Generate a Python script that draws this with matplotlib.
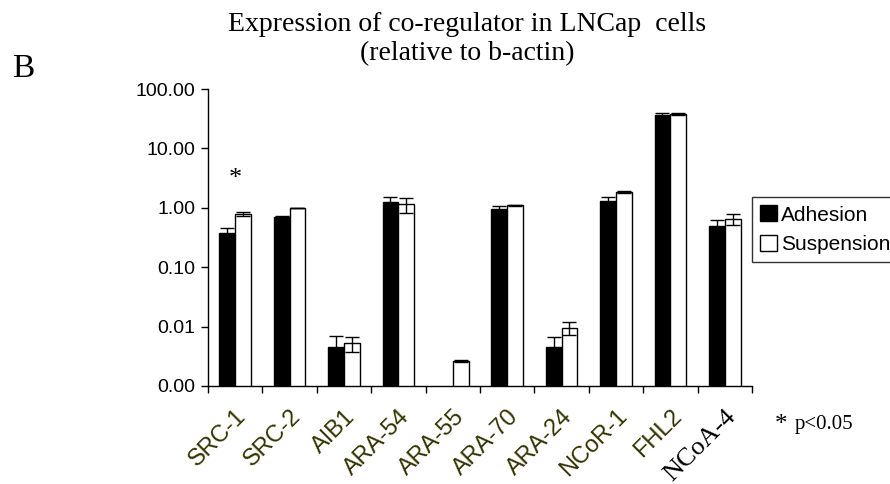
import numpy as np
from matplotlib import pyplot as plt

# co-regulator expression, relative to b-actin
genes = ["SRC-1", "SRC-2", "AIB1", "ARA-54", "ARA-55", "ARA-70",
         "ARA-24", "NCoR-1", "FHL2", "NCoA-4"]
adhesion = [0.37, 0.71, 0.0046, 1.27, 0.0, 0.95, 0.0046, 1.30, 36.5, 0.49]
adhesion_err = [0.08, 0.01, 0.0024, 0.27, 0.0, 0.12, 0.002, 0.24, 3.3, 0.13]
suspension = [0.79, 1.00, 0.0052, 1.14, 0.0026, 1.11, 0.0096, 1.85, 37.9, 0.65]
suspension_err = [0.05, 0.01, 0.0015, 0.31, 0.0001, 0.02, 0.0025, 0.06, 1.0, 0.14]
yticks = [0.001, 0.01, 0.1, 1, 10, 100]
ylabels = ["0.00", "0.01", "0.10", "1.00", "10.00", "100.00"]

fig = plt.figure(figsize=(8.9, 4.84), dpi=100)
ax = fig.add_axes([0.2337, 0.2025, 0.8449 - 0.2337, 0.816 - 0.2025])

x = np.arange(len(genes))
w = 0.29
err_kw = dict(ecolor="black", elinewidth=1.0, capsize=5, capthick=1.0)
ax.bar(x - w / 2, adhesion, w, yerr=adhesion_err, color="black",
       edgecolor="black", linewidth=1.0, label="Adhesion", error_kw=err_kw)
ax.bar(x + w / 2, suspension, w, yerr=suspension_err, color="white",
       edgecolor="black", linewidth=1.0, label="Suspension", error_kw=err_kw)

ax.set_yscale("log")
ax.set_ylim(0.001, 100)
ax.set_xlim(-0.5, len(genes) - 0.5)
ax.set_yticks(yticks)
ax.set_yticklabels(ylabels, family="Liberation Sans", fontsize=14)
ax.yaxis.set_minor_locator(plt.NullLocator())
ax.tick_params(axis="y", direction="out", length=5, width=1, pad=4)

# tick marks between the groups, labels at the centers
ax.set_xticks(np.arange(len(genes) + 1) - 0.5)
ax.set_xticklabels([])
ax.tick_params(axis="x", direction="out", length=5, width=1)
ax.set_xticks(x, minor=True)
ax.set_xticklabels(genes, minor=True, rotation=45, ha="right",
                   rotation_mode="anchor", family="Liberation Sans",
                   fontsize=17, color="#333300")
ax.tick_params(axis="x", which="minor", length=0, pad=14)
last = ax.get_xticklabels(minor=True)[-1]
last.set_family("Liberation Serif")
last.set_fontsize(19)
last.set_color("black")

for s in ["top", "right"]:
    ax.spines[s].set_visible(False)
for s in ["left", "bottom"]:
    ax.spines[s].set_linewidth(1.0)

ax.text(0, 3.0, "*", ha="center", va="center", fontsize=19,
        family="Liberation Serif")

leg = ax.legend(loc="upper left", bbox_to_anchor=(0.845, 0.593),
                bbox_transform=fig.transFigure, prop={"family": "Liberation Sans", "size": 15},
                frameon=True, fancybox=False, edgecolor="black",
                handlelength=0.8, handleheight=0.8, handletextpad=0.2,
                borderpad=0.4, labelspacing=0.5, borderaxespad=0)
leg.get_frame().set_linewidth(1.0)

fig.text(0.525, 0.975, "Expression of co-regulator in LNCap  cells\n(relative to b-actin)",
         ha="center", va="top", fontsize=20, family="Liberation Serif",
         linespacing=1.2)
fig.text(0.013, 0.857, "B", ha="left", va="center", fontsize=24,
         family="Liberation Serif")
fig.text(0.871, 0.122, "*", ha="left", va="center", fontsize=18,
         family="Liberation Serif")
fig.text(0.893, 0.122, "p<0.05", ha="left", va="center", fontsize=15,
         family="Liberation Serif")

fig.savefig("out.png", dpi=100)
